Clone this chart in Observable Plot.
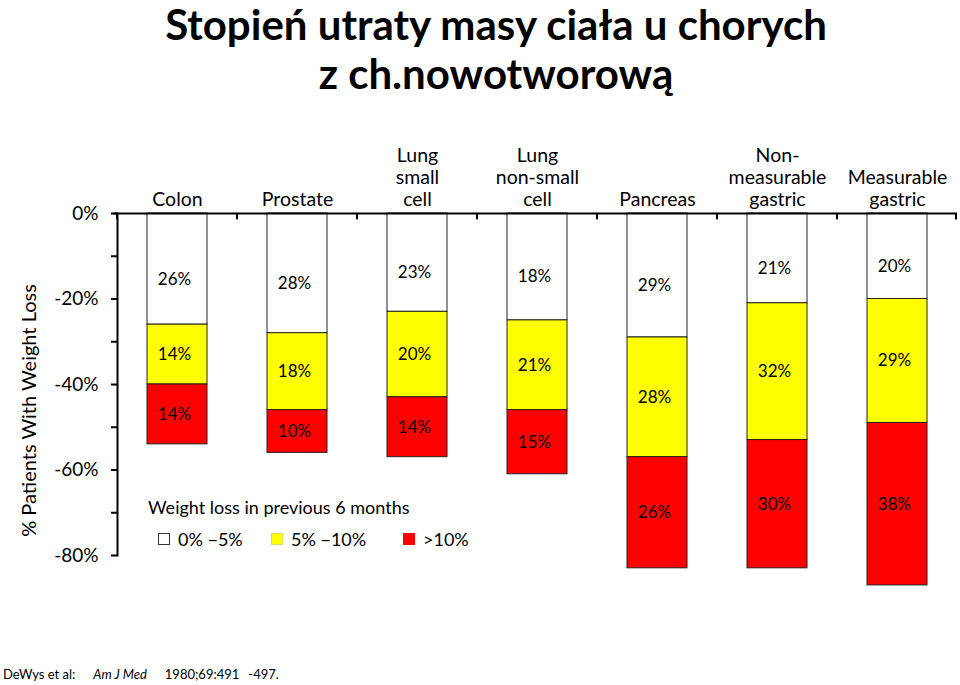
<!DOCTYPE html>
<html>
<head>
<meta charset="utf-8">
<script src="https://cdn.jsdelivr.net/npm/d3@7"></script>
<script src="https://cdn.jsdelivr.net/npm/@observablehq/plot@0.6"></script>
<style>
  body { margin: 0; background: #fff; font-family: Lato, "Open Sans", sans-serif; }
  #wrap { position: relative; width: 960px; height: 685px; overflow: hidden; }
  #title { position: absolute; left: 32px; top: 3px; width: 928px; text-align: center;
           font-weight: bold; font-size: 42px; color: #000; }
  #title .l1 { height: 42px; line-height: 42px; }
  #title .l2 { height: 56px; line-height: 56px; }
  #chart { position: absolute; left: 0; top: 105px; }
  #legend { position: absolute; left: 148px; top: 494px; font-size: 18px; color: #000; }
  #legend .ttl { height: 26px; line-height: 26px; }
  #legend .row { display: flex; margin-top: 8px; margin-left: 10px; }
  #legend .item { display: flex; align-items: center; }
  #legend .sw { width: 12px; height: 12px; box-sizing: border-box; margin-right: 8px; }
  #caption { position: absolute; left: 3px; top: 666px; font-size: 13px; color: #000; }
</style>
</head>
<body>
<div id="wrap">
  <div id="title"></div>
  <div id="chart"></div>
  <div id="legend"></div>
  <div id="caption"></div>
</div>
<script>
// ---- data ----
const titleLines = ["Stopień utraty masy ciała u chorych", "z ch.nowotworową"];
const categories = ["Colon", "Prostate", "Lung\nsmall\ncell", "Lung\nnon-small\ncell", "Pancreas", "Non-\nmeasurable\ngastric", "Measurable\ngastric"];
const levels = ["0% \u22125%", "5% \u221210%", ">10%"];
const levelColors = ["#ffffff", "#ffff00", "#ff0000"];
// bar heights as drawn (% of patients)
const loss0to5 = [26, 28, 23, 25, 29, 21, 20];
const loss5to10 = [14, 18, 20, 21, 28, 32, 29];
const lossOver10 = [14, 10, 14, 15, 26, 30, 38];
// printed labels
const label0to5 = ["26%", "28%", "23%", "18%", "29%", "21%", "20%"];
const label5to10 = ["14%", "18%", "20%", "21%", "28%", "32%", "29%"];
const labelOver10 = ["14%", "10%", "14%", "15%", "26%", "30%", "38%"];
const yTicks = [0, -10, -20, -30, -40, -50, -60, -70, -80];
const yLabel = "% Patients With Weight Loss";
const legendTitle = "Weight loss in previous 6 months";
const captionParts = ["DeWys et al:", "Am J Med", "1980;69:491", "-497."];

// ---- table ----
const series = [loss0to5, loss5to10, lossOver10];
const labels = [label0to5, label5to10, labelOver10];
const rows = [];
categories.forEach((c, i) => {
  levels.forEach((lv, j) => {
    rows.push({cat: c, level: lv, lvIndex: j, value: series[j][i], label: labels[j][i]});
  });
});

document.getElementById("title").innerHTML =
  `<div class="l1">${titleLines[0]}</div><div class="l2">${titleLines[1]}</div>`;

const font = "Lato, 'Open Sans', sans-serif";
const stackOpts = {x: "cat", y: d => -d.value, order: null};
const chart = Plot.plot({
  width: 960,
  height: 555,
  marginTop: 108,
  marginBottom: 105,
  marginLeft: 117,
  marginRight: 3,
  style: {fontFamily: font, fontSize: "18px", color: "#000", background: "transparent"},
  x: {type: "band", domain: categories, paddingInner: 0.5, paddingOuter: 0.25, axis: null},
  y: {domain: [-80, 0], axis: null},
  color: {domain: levels, range: levelColors},
  marks: [
    Plot.barY(rows, Plot.stackY({...stackOpts, fill: "level", stroke: "#222", strokeWidth: 1})),
    Plot.text(rows, Plot.stackY({...stackOpts, text: d => d.lvIndex === 0 ? d.label : "", fontSize: 17, dy: 10, dx: -3})),
    Plot.text(rows, Plot.stackY({...stackOpts, text: d => d.lvIndex > 0 ? d.label : "", fontSize: 17, dx: -3})),
    // left axis line and top axis line
    Plot.frame({anchor: "left", stroke: "#000", strokeWidth: 2}),
    Plot.ruleY([0], {stroke: "#000", strokeWidth: 2, insetLeft: -4}),
    // top axis ticks at category boundaries (thin bars at band edges)
    Plot.barY(categories, {x: d => d, y1: 0, y2: -1.5, fill: "#000", insetLeft: -31, insetRight: 89}),
    Plot.barY(categories.slice(-1), {x: d => d, y1: 0, y2: -1.5, fill: "#000", insetLeft: 88, insetRight: -30}),
    Plot.axisY({ticks: yTicks, tickSize: 6, tickPadding: 13, strokeWidth: 2, fontSize: 19,
                tickFormat: d => (d % 20 === 0 ? d + "%" : ""), label: null}),
    Plot.text(categories, {x: d => d, y: 0, text: d => d, lineAnchor: "bottom", lineHeight: 1.12, fontSize: 19.5, dy: -8}),
    Plot.text([yLabel], {frameAnchor: "left", textAnchor: "middle", text: d => d, rotate: -90, dx: -88, dy: 26, fontSize: 20})
  ]
});
document.getElementById("chart").appendChild(chart);

// legend
const lg = document.getElementById("legend");
const widths = [113, 132, 80];
lg.innerHTML = `<div class="ttl">${legendTitle}</div><div class="row">` +
  levels.map((lv, i) => `<div class="item" style="width:${widths[i]}px"><div class="sw" style="background:${levelColors[i]};border:1px solid ${i === 0 ? '#333' : (i === 1 ? '#e0d860' : levelColors[i])}"></div>${lv}</div>`).join("") +
  `</div>`;

// caption
document.getElementById("caption").innerHTML =
  `<span>${captionParts[0]}</span><span style="margin-left:18px;font-style:italic">${captionParts[1]}</span>` +
  `<span style="margin-left:18px">${captionParts[2]}</span><span style="margin-left:9px">${captionParts[3]}</span>`;
</script>
</body>
</html>
